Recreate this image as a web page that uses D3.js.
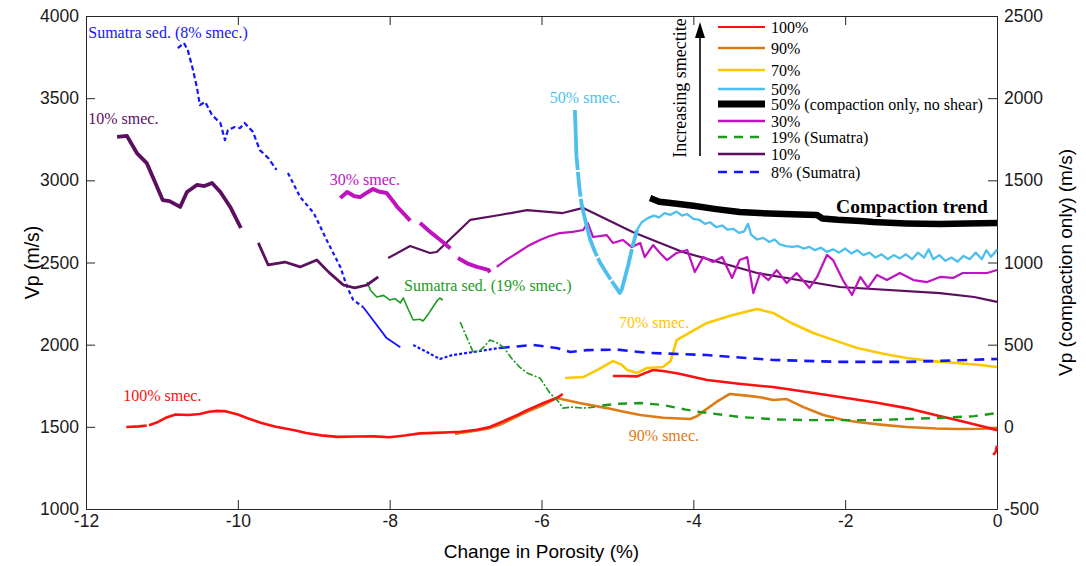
<!DOCTYPE html>
<html>
<head>
<meta charset="utf-8">
<script src="https://cdn.jsdelivr.net/npm/d3@7"></script>
<style>
  body { margin: 0; background: #fff; }
  .tick text { font-family: "Liberation Sans", Arial, sans-serif; font-size: 17.5px; fill: #1a1a1a; }
  .domain, .tick line { stroke: #262626; }
</style>
</head>
<body>
<div id="chart"></div>
<script>
// x tick values / y tick values
var xTicks = [-12, -10, -8, -6, -4, -2, 0];
var yTicks = [1000, 1500, 2000, 2500, 3000, 3500, 4000];
var yRightTicks = [-500, 0, 500, 1000, 1500, 2000, 2500];

// each series is a list of segments of [change in porosity, Vp]
var red100 = [
  [[-11.47,1499],[-11.3,1503],[-11.2,1508]],
  [[-11.17,1510],[-11.05,1530],[-10.95,1555],[-10.82,1575],[-10.65,1572],[-10.5,1578],[-10.38,1592],[-10.27,1597],[-10.15,1594],[-10.0,1575],[-9.88,1554],[-9.7,1525],[-9.5,1500],[-9.27,1481],[-9.1,1462],[-8.9,1448],[-8.69,1439],[-8.45,1441],[-8.2,1442],[-8.0,1437],[-7.8,1447],[-7.6,1460],[-7.4,1463],[-7.2,1467],[-7.07,1470],[-6.85,1482],[-6.68,1499],[-6.5,1535],[-6.3,1575],[-6.19,1602],[-6.0,1640],[-5.8,1675],[-5.72,1700]],
  [[-5.06,1809],[-4.9,1809],[-4.74,1807],[-4.62,1830],[-4.53,1846],[-4.4,1840],[-4.2,1825],[-3.82,1785],[-3.4,1762],[-2.95,1742],[-2.5,1712],[-2.07,1681],[-1.6,1648],[-1.19,1614],[-0.8,1570],[-0.53,1541],[-0.25,1510],[0,1480]],
  [[-0.05,1330],[-0.02,1345],[0,1385]]
];
var orange90 = [
  [[-7.14,1456],[-7.0,1468],[-6.85,1478],[-6.7,1490],[-6.55,1512],[-6.4,1545],[-6.2,1590],[-6.0,1628],[-5.8,1675],[-5.5,1645],[-5.14,1614],[-4.9,1590],[-4.7,1572],[-4.4,1555],[-4.04,1548],[-3.95,1565],[-3.85,1600],[-3.7,1650],[-3.52,1700],[-3.3,1690],[-3.1,1678],[-2.95,1663],[-2.77,1669],[-2.55,1620],[-2.29,1572],[-2.05,1545],[-1.84,1529],[-1.5,1512],[-1.19,1499],[-0.8,1490],[-0.53,1487],[-0.2,1488],[0,1493]]
];
var yellow70 = [
  [[-5.69,1797],[-5.45,1803],[-5.25,1850],[-5.06,1900],[-4.95,1880],[-4.87,1846],[-4.74,1828],[-4.61,1858],[-4.4,1864],[-4.3,1900],[-4.22,2028],[-4.1,2060],[-3.82,2132],[-3.48,2180],[-3.16,2217],[-2.95,2193],[-2.7,2130],[-2.42,2071],[-2.1,2020],[-1.84,1980],[-1.5,1945],[-1.19,1919],[-0.85,1900],[-0.53,1888],[-0.25,1878],[0,1864]]
];
var cyan50 = [
  [[-5.56,3428],[-5.55,3300],[-5.54,3150],[-5.53,3100],[-5.5,2950],[-5.47,2850],[-5.42,2750],[-5.36,2640],[-5.3,2570],[-5.23,2500],[-5.15,2440],[-5.08,2390],[-5.02,2350],[-4.97,2314],[-4.94,2340],[-4.9,2410],[-4.86,2480],[-4.8,2600],[-4.74,2700]],
  [[-4.74,2700],[-4.68,2745],[-4.6,2770],[-4.52,2785],[-4.45,2775],[-4.38,2800],[-4.3,2790],[-4.22,2810],[-4.15,2785],[-4.08,2795],[-4.0,2765],[-3.92,2760],[-3.85,2735],[-3.78,2745],[-3.7,2715],[-3.62,2725],[-3.55,2700],[-3.47,2705],[-3.4,2680],[-3.33,2690],[-3.28,2735],[-3.24,2670],[-3.16,2640],[-3.08,2650],[-3.0,2625],[-2.93,2640],[-2.86,2610],[-2.78,2600],[-2.7,2595],[-2.62,2600],[-2.55,2585],[-2.47,2595],[-2.4,2575],[-2.32,2590],[-2.24,2565],[-2.16,2580],[-2.08,2560],[-2.0,2585],[-1.92,2555],[-1.84,2575],[-1.76,2545],[-1.68,2560],[-1.6,2530],[-1.52,2550],[-1.44,2520],[-1.36,2545],[-1.28,2525],[-1.2,2550],[-1.12,2520],[-1.04,2560],[-0.96,2530],[-0.9,2580],[-0.84,2520],[-0.76,2545],[-0.68,2510],[-0.6,2530],[-0.52,2505],[-0.44,2540],[-0.36,2520],[-0.28,2560],[-0.2,2520],[-0.14,2575],[-0.08,2535],[-0.03,2560],[0,2580]]
];
// right axis values (compaction only)
var compaction50 = [
  [[-4.57,1392],[-4.45,1370],[-4.3,1362],[-4.0,1345],[-3.7,1325],[-3.39,1307],[-3.0,1298],[-2.6,1292],[-2.37,1289],[-2.3,1268],[-2.1,1260],[-1.8,1252],[-1.63,1246],[-1.2,1238],[-0.75,1234],[-0.4,1238],[0,1240]]
];
var magenta30 = [
  [[-8.65,2892],[-8.56,2929],[-8.47,2905],[-8.39,2898],[-8.3,2925],[-8.22,2947],[-8.13,2930],[-8.04,2923],[-7.95,2870],[-7.9,2838],[-7.8,2790],[-7.73,2755]],
  [[-7.6,2740],[-7.45,2680],[-7.3,2625],[-7.2,2585]],
  [[-7.1,2527],[-6.98,2495],[-6.85,2473],[-6.7,2455],[-6.68,2440]],
  [[-6.59,2473],[-6.45,2520],[-6.32,2558],[-6.18,2600],[-6.02,2637],[-5.9,2660],[-5.76,2679],[-5.59,2686],[-5.45,2698],[-5.39,2740],[-5.32,2655],[-5.14,2667],[-5.06,2619],[-4.93,2637],[-4.81,2594],[-4.7,2619],[-4.64,2533],[-4.53,2606],[-4.44,2558],[-4.35,2515],[-4.22,2558],[-4.08,2576],[-3.98,2442],[-3.87,2533],[-3.74,2503],[-3.62,2533],[-3.49,2406],[-3.39,2515],[-3.29,2533],[-3.21,2314],[-3.12,2436],[-3.01,2393],[-2.9,2454],[-2.77,2375],[-2.64,2436],[-2.47,2345],[-2.37,2412],[-2.24,2546],[-2.16,2515],[-2.03,2393],[-1.91,2302],[-1.8,2412],[-1.7,2345],[-1.58,2424],[-1.45,2393],[-1.28,2436],[-1.1,2393],[-0.92,2381],[-0.75,2412],[-0.58,2406],[-0.45,2436],[-0.32,2436],[-0.13,2436],[0,2454]]
];
var green19 = [
  [[-8.3,2381],[-8.25,2330],[-8.17,2290],[-8.08,2300],[-8.0,2272],[-7.93,2280],[-7.86,2254],[-7.82,2284],[-7.76,2220],[-7.69,2150],[-7.6,2155],[-7.56,2144],[-7.5,2180],[-7.43,2229],[-7.37,2270],[-7.34,2284],[-7.3,2272]],
  [[-7.07,2138],[-7.0,2060],[-6.9,1955],[-6.82,1961],[-6.75,1990],[-6.68,2028],[-6.6,2015],[-6.5,1985],[-6.4,1920],[-6.28,1860],[-6.19,1828],[-6.02,1797],[-5.89,1706],[-5.76,1645],[-5.72,1614],[-5.6,1620],[-5.45,1614],[-5.3,1620]],
  [[-5.2,1630],[-5.0,1640],[-4.7,1645],[-4.4,1633],[-4.1,1605],[-3.91,1590],[-3.39,1560],[-2.9,1545],[-2.5,1541],[-1.63,1541],[-0.75,1554],[-0.3,1565],[0,1584]]
];
var purple10 = [
  [[-11.59,3264],[-11.46,3270],[-11.33,3166],[-11.2,3105],[-11.12,3020],[-10.99,2880],[-10.9,2874],[-10.76,2838],[-10.67,2929],[-10.54,2972],[-10.44,2965],[-10.34,2984],[-10.23,2929],[-10.1,2838],[-9.96,2710]],
  [[-9.73,2619],[-9.6,2485],[-9.38,2503],[-9.18,2473],[-8.96,2515],[-8.8,2440],[-8.61,2363],[-8.46,2345],[-8.3,2363],[-8.15,2412]],
  [[-8.02,2527],[-7.73,2600],[-7.47,2558],[-7.38,2564],[-6.94,2759],[-6.55,2789],[-6.19,2819],[-5.72,2801],[-5.45,2832],[-4.8,2686],[-4.14,2564],[-3.16,2436],[-2.07,2351],[-0.75,2314],[-0.3,2290],[0,2260]]
];
var blue8 = [
  [[-10.79,3805],[-10.71,3836],[-10.66,3793],[-10.6,3690],[-10.54,3568],[-10.5,3458],[-10.43,3477],[-10.34,3397],[-10.23,3349],[-10.17,3245],[-10.13,3306],[-10.04,3324],[-9.97,3318],[-9.91,3349],[-9.8,3294],[-9.71,3184],[-9.6,3136],[-9.49,3063]],
  [[-9.34,3045],[-9.18,2899],[-9.0,2801],[-8.83,2637],[-8.65,2473],[-8.56,2351],[-8.48,2272],[-8.35,2229]],
  [[-8.35,2229],[-8.22,2150],[-8.04,2040],[-7.86,1985]],
  [[-7.69,1998],[-7.51,1955],[-7.34,1913],[-7.17,1937],[-6.9,1955],[-6.55,1980]],
  [[-6.55,1980],[-6.11,1998],[-5.8,1980],[-5.62,1955],[-5.4,1967],[-5.0,1970],[-4.6,1950],[-3.82,1937],[-2.95,1907],[-2.07,1895],[-1.19,1895],[-0.5,1905],[0,1913]]
];

var legendNames = ["100%", "90%", "70%", "50%", "50% (compaction only, no shear)", "30%", "19% (Sumatra)", "10%", "8% (Sumatra)"];
var noteTexts = ["Sumatra sed. (8% smec.)", "10% smec.", "30% smec.", "Sumatra sed. (19% smec.)", "50% smec.", "70% smec.", "100% smec.", "90% smec."];
var noteAt = [[-11.97,3866],[-11.97,3343],[-8.79,2972],[-7.81,2327],[-5.89,3470],[-4.98,2101],[-11.51,1657],[-4.85,1414]];

// styles
var series = [
  {data: orange90, color: "#dd7b16", widths: [2.6]},
  {data: red100, color: "#ff1010", widths: [2.6, 2.6, 2.6, 2.6]},
  {data: yellow70, color: "#fcc800", widths: [2.6]},
  {data: blue8, color: "#1515ff", widths: [2.2, 2.2, 1.8, 2.2, 2.6], dashes: ["5,3", "4,3", null, "3,2", "10,7"]},
  {data: green19, color: "#1c9a1c", widths: [1.6, 1.6, 2.4], dashes: [null, "7,2,2,2", "9,7"]},
  {data: purple10, color: "#5c0f5e", widths: [3.8, 2.8, 2.2]},
  {data: magenta30, color: "#c013c0", widths: [4, 4, 4, 2.2]},
  {data: cyan50, color: "#4dbfee", widths: [3.8, 2.3], dashes: ["60,2,25,2", null]},
  {data: compaction50, color: "#000", widths: [6.5], right: true}
];
var legendStyle = [
  {color: "#ff1010", w: 2}, {color: "#dd7b16", w: 2.5}, {color: "#fcc800", w: 2.5}, {color: "#4dbfee", w: 2.5},
  {color: "#000", w: 7}, {color: "#c013c0", w: 2.5}, {color: "#1c9a1c", w: 2.5, dash: "9,7"},
  {color: "#5c0f5e", w: 2.5}, {color: "#1515ff", w: 2.5, dash: "9,7"}
];
var noteColors = ["#1515ff", "#5c0f5e", "#c013c0", "#1c9a1c", "#4dbfee", "#fcc800", "#ff1010", "#dd7b16"];

var margin = {top: 16, right: 89, bottom: 57, left: 86},
    W = 1086 - margin.left - margin.right,
    H = 566 - margin.top - margin.bottom;

var svg = d3.select("#chart").append("svg").attr("width", 1086).attr("height", 566)
  .append("g").attr("transform", "translate(" + margin.left + "," + margin.top + ")");

var x = d3.scaleLinear().domain([-12, 0]).range([0, W]);
var y = d3.scaleLinear().domain([1000, 4000]).range([H, 0]);
var yR = d3.scaleLinear().domain([-500, 2500]).range([H, 0]);
var plain = function (d) { return String(d); };

// axes (ticks point inward)
svg.append("g").attr("transform", "translate(0," + H + ")")
  .call(d3.axisBottom(x).tickValues(xTicks).tickFormat(plain).tickSizeInner(-9).tickSizeOuter(0).tickPadding(6));
svg.append("g")
  .call(d3.axisLeft(y).tickValues(yTicks).tickFormat(plain).tickSizeInner(-9).tickSizeOuter(0).tickPadding(7));
svg.append("g")
  .call(d3.axisTop(x).tickValues(xTicks).tickSizeInner(-9).tickSizeOuter(0).tickFormat(""));
svg.append("g").attr("transform", "translate(" + W + ",0)")
  .call(d3.axisRight(yR).tickValues(yRightTicks).tickFormat(plain).tickSizeInner(-9).tickSizeOuter(0).tickPadding(7));

svg.append("text").attr("transform", "translate(-54," + (H / 2) + ") rotate(-90)")
  .attr("text-anchor", "middle").attr("dy", "0.35em")
  .style("font-family", "Liberation Sans, Arial, sans-serif").style("font-size", "19.5px")
  .text("Vp (m/s)");
svg.append("text").attr("x", W / 2).attr("y", H + 42)
  .attr("text-anchor", "middle").attr("dy", "0.35em")
  .style("font-family", "Liberation Sans, Arial, sans-serif").style("font-size", "19px")
  .text("Change in Porosity (%)");
svg.append("text").attr("transform", "translate(" + (W + 68) + "," + (H / 2) + ") rotate(-90)")
  .attr("text-anchor", "middle").attr("dy", "0.35em")
  .style("font-family", "Liberation Sans, Arial, sans-serif").style("font-size", "19px")
  .text("Vp (compaction only) (m/s)");

// curves
series.forEach(function (s) {
  var line = d3.line().x(function (d) { return x(d[0]); })
    .y(function (d) { return s.right ? yR(d[1]) : y(d[1]); });
  s.data.forEach(function (seg, i) {
    svg.append("path").datum(seg)
      .attr("fill", "none").attr("stroke", s.color)
      .attr("stroke-width", s.widths[i] || s.widths[0])
      .attr("stroke-linejoin", "round")
      .attr("stroke-dasharray", s.dashes && s.dashes[i] ? s.dashes[i] : null)
      .attr("d", line);
  });
});

// notes on curves
svg.selectAll(".note").data(noteTexts).enter().append("text")
  .attr("x", function (d, i) { return x(noteAt[i][0]); })
  .attr("y", function (d, i) { return y(noteAt[i][1]); })
  .attr("fill", function (d, i) { return noteColors[i]; })
  .style("font-family", "Liberation Serif, Times New Roman, serif").style("font-size", "16px")
  .text(function (d) { return d; });

svg.append("text").attr("x", x(-2.12)).attr("y", y(2801))
  .style("font-family", "Liberation Serif, Times New Roman, serif").style("font-size", "19.5px")
  .style("font-weight", "bold").text("Compaction trend");

// legend
var lg = svg.append("g").attr("transform", "translate(" + (718 - margin.left) + ",0)");
var rowY = [11, 32, 54, 73, 88, 105, 121, 138, 156];
legendNames.forEach(function (name, i) {
  var st = legendStyle[i];
  lg.append("line").attr("x1", 0).attr("x2", 47).attr("y1", rowY[i]).attr("y2", rowY[i])
    .attr("stroke", st.color).attr("stroke-width", st.w)
    .attr("stroke-dasharray", st.dash || null);
  lg.append("text").attr("x", 53).attr("y", rowY[i]).attr("dy", "0.35em")
    .style("font-family", "Liberation Serif, Times New Roman, serif").style("font-size", "16px")
    .text(name);
});
lg.append("line").attr("x1", -18).attr("x2", -18).attr("y1", 140).attr("y2", 18)
  .attr("stroke", "#000").attr("stroke-width", 1.6);
lg.append("path").attr("d", "M-18,6 L-23,22 L-13,22 Z").attr("fill", "#000");
lg.append("text").attr("transform", "translate(-38,72) rotate(-90)")
  .attr("text-anchor", "middle").attr("dy", "0.35em")
  .style("font-family", "Liberation Serif, Times New Roman, serif").style("font-size", "18px")
  .text("Increasing smectite");
</script>
</body>
</html>
